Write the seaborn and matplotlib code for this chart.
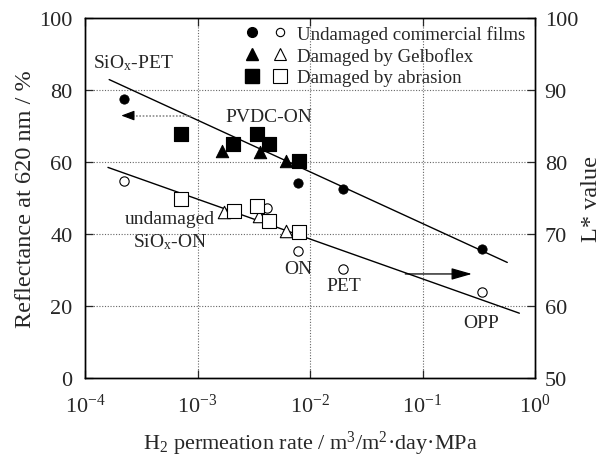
import numpy as np
import pandas as pd
import matplotlib
matplotlib.use("Agg")
import matplotlib.pyplot as plt
import seaborn as sns
from matplotlib.lines import Line2D
from matplotlib.legend_handler import HandlerTuple

# ---------------- data ----------------
# filled symbols: reflectance at 620 nm (left axis)
fc_x = [2.23e-4, 7.8e-3, 0.0195, 0.336]
fc_y = [77.5, 54.2, 52.5, 35.8]
ft_x = [1.66e-3, 3.59e-3, 6.07e-3]
ft_y = [63.1, 62.7, 60.4]
fs_x = [7.2e-4, 2.08e-3, 3.4e-3, 4.3e-3, 7.96e-3]
fs_y = [67.8, 65.0, 67.8, 65.0, 60.4]
# open symbols: L* value (right axis)
oc_x = [2.23e-4, 4.17e-3, 7.8e-3, 0.0195, 0.336]
oc_y = [77.4, 73.55, 67.7, 65.15, 61.9]
ot_x = [1.72e-3, 3.5e-3, 6.07e-3]
ot_y = [73.0, 72.55, 70.45]
os_x = [7.2e-4, 2.11e-3, 3.4e-3, 4.3e-3, 7.96e-3]
os_y = [74.85, 73.25, 73.85, 71.85, 70.3]
# fitted lines
fit_refl_x = [1.64e-4, 0.567]
fit_refl_y = [82.9, 32.1]
fit_L_x = [1.6e-4, 0.726]
fit_L_y = [79.25, 59.0]

x_ticks = [1e-4, 1e-3, 1e-2, 1e-1, 1e0]
x_ticklabels = [r"$10^{-4}$", r"$10^{-3}$", r"$10^{-2}$", r"$10^{-1}$", r"$10^{0}$"]
left_ticks = [0, 20, 40, 60, 80, 100]
right_ticks = [50, 60, 70, 80, 90, 100]
legend_labels = ["Undamaged commercial films", "Damaged by Gelboflex", "Damaged by abrasion"]

# ---------------- style ----------------
sns.set_style("ticks")
plt.rcParams["font.family"] = ["Liberation Serif", "DejaVu Serif"]
plt.rcParams["mathtext.fontset"] = "custom"
plt.rcParams["mathtext.rm"] = "Liberation Serif"
plt.rcParams["mathtext.it"] = "Liberation Serif:italic"
plt.rcParams["mathtext.bf"] = "Liberation Serif:bold"

fig = plt.figure(figsize=(6.09, 4.60), dpi=100)
ax = fig.add_axes([85/609, 1-379/460, (535-85)/609, (379-19)/460])
ax2 = ax.twinx()

ax.set_xscale("log")
ax.set_xlim(1e-4, 1e0)
ax.set_ylim(0, 100)
ax2.set_ylim(50, 100)

# grid
for gx in [1e-3, 1e-2, 1e-1]:
    ax.axvline(gx, color="0.4", lw=0.8, ls=(0, (1, 1.5)), zorder=0)
for gy in [20, 40, 60, 80]:
    ax.axhline(gy, color="0.4", lw=0.8, ls=(0, (1, 1.5)), zorder=0)

# fitted lines
sns.lineplot(x=fit_refl_x, y=fit_refl_y, ax=ax, color="black", lw=1.0, zorder=2)
sns.lineplot(x=fit_L_x, y=fit_L_y, ax=ax2, color="black", lw=1.0, zorder=2)

ms_c, ms_t, ms_s = 45, 80, 110
sns.scatterplot(x=fc_x, y=fc_y, ax=ax, marker="o", s=ms_c, color="black", edgecolor="black", zorder=3)
sns.scatterplot(x=ft_x, y=ft_y, ax=ax, marker="^", s=ms_t, color="black", edgecolor="black", zorder=3)
sns.scatterplot(x=fs_x, y=fs_y, ax=ax, marker="s", s=ms_s, color="black", edgecolor="black", zorder=3)
sns.scatterplot(x=oc_x, y=oc_y, ax=ax2, marker="o", s=ms_c, facecolor="white", edgecolor="black", linewidth=0.8, zorder=3)
sns.scatterplot(x=ot_x, y=ot_y, ax=ax2, marker="^", s=ms_t, facecolor="white", edgecolor="black", linewidth=0.8, zorder=3)
sns.scatterplot(x=os_x, y=os_y, ax=ax2, marker="s", s=ms_s, facecolor="white", edgecolor="black", linewidth=0.8, zorder=3)

# arrows
ax.plot([8.7e-4, 2.5e-4], [72.9, 72.9], color="0.55", lw=1.2, ls=(0, (1, 1)), zorder=2)
ax.annotate("", xy=(2.1e-4, 72.9), xytext=(2.6e-4, 72.9),
            arrowprops=dict(arrowstyle="-|>,head_length=0.8,head_width=0.3", color="black", lw=0.8,
                            mutation_scale=10, shrinkA=0, shrinkB=0))
ax.annotate("", xy=(0.275, 28.9), xytext=(0.0703, 28.9),
            arrowprops=dict(arrowstyle="-|>,head_length=1.05,head_width=0.3", color="black", lw=0.9,
                            mutation_scale=12, shrinkA=0, shrinkB=0))

# annotations
fs = 14
ax.text(1.17e-4, 87.7, r"SiO$_\mathrm{x}$-PET", fontsize=fs, ha="left", va="center")
ax.text(1.78e-3, 72.5, "PVDC-ON", fontsize=fs, ha="left", va="center")
ax.text(5.7e-4, 44.4, "undamaged", fontsize=fs, ha="center", va="center")
ax.text(5.7e-4, 37.9, r"SiO$_\mathrm{x}$-ON", fontsize=fs, ha="center", va="center")
ax.text(7.8e-3, 30.3, "ON", fontsize=fs, ha="center", va="center")
ax.text(0.0198, 25.6, "PET", fontsize=fs, ha="center", va="center")
ax.text(0.332, 15.5, "OPP", fontsize=fs, ha="center", va="center")

# ticks
ax.set_xticks(x_ticks)
ax.set_xticklabels(x_ticklabels)
ax.xaxis.set_minor_locator(matplotlib.ticker.NullLocator())
ax.set_yticks(left_ticks)
ax2.set_yticks(right_ticks)
ax.tick_params(axis="x", which="major", direction="in", length=6, width=0.9,
               labelsize=16, top=True, pad=11)
ax.tick_params(axis="y", which="major", direction="in", length=6, width=0.9,
               labelsize=16, pad=9)
ax2.tick_params(axis="y", direction="in", length=6, width=0.9, labelsize=16, pad=7)
for a in (ax, ax2):
    for sp in a.spines.values():
        sp.set_linewidth(1.0)
        sp.set_color("black")

ax.set_xlabel(r"H$_2$ permeation rate / m$^3$/m$^2$·day·MPa", fontsize=16, labelpad=9)
ax.set_ylabel("Reflectance at 620 nm / %", fontsize=17.5, labelpad=2)
ax2.set_ylabel("L* value", fontsize=17.5, labelpad=2)

# legend
def pair(m, ms, ms_open):
    return (Line2D([], [], ls="", marker=m, ms=ms, mfc="black", mec="black"),
            Line2D([], [], ls="", marker=m, ms=ms_open, mfc="white", mec="black", mew=0.8))
handles = [pair("o", 7, 6), pair("^", 9, 9), pair("s", 10.5, 10.5)]
ax.legend(handles, legend_labels, handler_map={tuple: HandlerTuple(ndivide=None, pad=0.8)},
          loc="upper left", bbox_to_anchor=(245/609, 1-26/460), bbox_transform=fig.transFigure,
          frameon=False, fontsize=13.6, handlelength=2.2, handletextpad=0.55,
          labelspacing=0.22, borderaxespad=0, borderpad=0)

fig.savefig("out.png", dpi=100)
